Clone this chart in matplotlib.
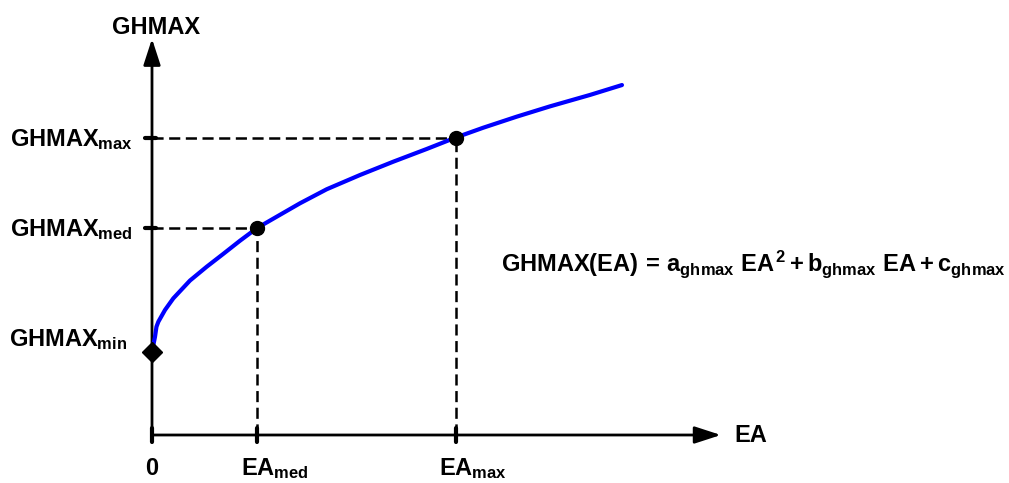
import matplotlib
matplotlib.use('Agg')
import matplotlib.pyplot as plt
import numpy as np

# schematic units: 1 unit ~ 104 px on both axes
EA_MED = 1.01
EA_MAX = 2.92
GH_MIN = 0.80
GH_MED = 1.99
GH_MAX = 2.86

# blue GHMAX(EA) curve, read point by point
curve_ea = [0.0, 0.029, 0.043, 0.061, 0.125, 0.205, 0.365, 0.526, 0.686,
            0.846, 1.01, 1.199, 1.423, 1.68, 2.0, 2.32, 2.641, 2.92,
            3.186, 3.507, 3.827, 4.212, 4.519]
curve_gh = [0.80, 0.945, 1.041, 1.089, 1.202, 1.314, 1.485, 1.618, 1.742,
            1.868, 1.99, 2.099, 2.228, 2.363, 2.5, 2.628, 2.75, 2.86,
            2.955, 3.061, 3.16, 3.27, 3.365]

Y_AXIS_TOP = 3.81
X_AXIS_END = 5.47

plt.rcParams['font.family'] = 'Liberation Sans'
plt.rcParams['font.weight'] = 'bold'
plt.rcParams['mathtext.fontset'] = 'custom'
plt.rcParams['mathtext.rm'] = 'Liberation Sans:bold'
plt.rcParams['mathtext.it'] = 'Liberation Sans:bold'
plt.rcParams['mathtext.bf'] = 'Liberation Sans:bold'
plt.rcParams['lines.scale_dashes'] = False

fig = plt.figure(figsize=(10.09, 4.83), dpi=100)
ax = fig.add_axes([0, 0, 1, 1])
ax.set_xlim(-1.4615, 8.2404)
ax.set_ylim(-0.4615, 4.1827)
ax.set_axis_off()

FS = 17
DASH = (8, 4)

# axes with arrow heads
arrow = dict(arrowstyle='-|>,head_length=1.6,head_width=0.52', mutation_scale=10,
             lw=2, color='black', shrinkA=0, shrinkB=0)
ax.annotate('', xy=(0, Y_AXIS_TOP), xytext=(0, 0), arrowprops=arrow)
ax.annotate('', xy=(X_AXIS_END, 0), xytext=(0, 0), arrowprops=arrow)

# dashed guide lines
for ea, gh in [(EA_MED, GH_MED), (EA_MAX, GH_MAX)]:
    ax.plot([0, ea], [gh, gh], color='black', lw=1.8, dashes=DASH)
    ax.plot([ea, ea], [0, gh], color='black', lw=1.8, dashes=DASH)

# small tick marks on the axes
tk = 0.07
for ea in [0, EA_MED, EA_MAX]:
    ax.plot([ea, ea], [-tk, tk], color='black', lw=3, solid_capstyle='round')
for gh in [GH_MED, GH_MAX]:
    ax.plot([-tk, tk * 0.6], [gh, gh], color='black', lw=3, solid_capstyle='round')

ax.plot(curve_ea, curve_gh, color='#0000ff', lw=3, solid_capstyle='round',
        solid_joinstyle='round', zorder=3)

ax.plot([EA_MED, EA_MAX], [GH_MED, GH_MAX], 'o', color='black', ms=10, zorder=4)
ax.plot([0], [GH_MIN], 'D', color='black', ms=10, zorder=4)

def label(x, y, s, dx, dy, ha='left', va='baseline'):
    ax.annotate(s, xy=(x, y), xytext=(dx, dy), textcoords='offset pixels',
                ha=ha, va=va, fontsize=FS)

# y labels
label(0, GH_MAX, r'$GHMAX_{max}$', -19, -9, ha='right')
label(0, GH_MED, r'$GHMAX_{med}$', -19, -8, ha='right')
label(0, GH_MIN, r'$GHMAX_{min}$', -25, 6, ha='right')
label(0, Y_AXIS_TOP, 'GHMAX', 4, 5, ha='center')

# x labels
label(0, 0, '0', 0, -40, ha='center')
label(EA_MED, 0, r'$EA_{med}$', -16, -40)
label(EA_MAX, 0, r'$EA_{max}$', -17, -40)
label(X_AXIS_END, 0, 'EA', 13, 0, va='center')

ax.text(3.36, 1.58,
        r'$GHMAX(EA)\,=\,a_{ghmax}\ EA^{2}+b_{ghmax}\ EA+c_{ghmax}$',
        ha='left', va='baseline', fontsize=FS)

fig.savefig('out.png', dpi=100)
